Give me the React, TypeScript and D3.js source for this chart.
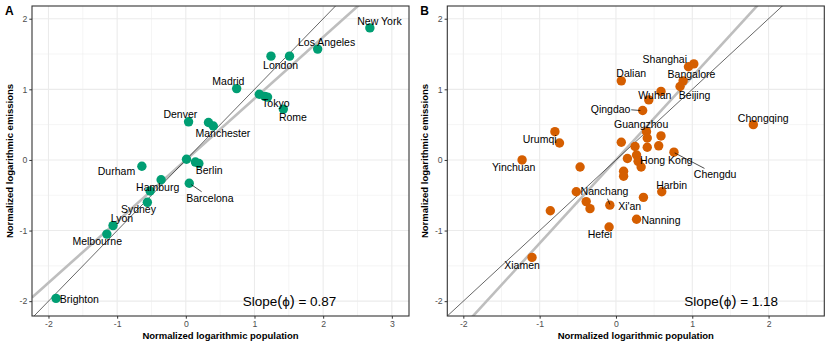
import React, { useEffect, useRef } from 'react';
import * as d3 from 'd3';

// tick values
const xTicksA = [-2, -1, 0, 1, 2, 3];
const xTicksB = [-2, -1, 0, 1, 2];
const yTicks = [-2, -1, 0, 1, 2];

// panel A : cities, [log population, log emissions]
const pointsA: [number, number][] = [
  [2.68, 1.87], [1.92, 1.57], [1.24, 1.47], [1.51, 1.47], [0.74, 1.01],
  [1.07, 0.93], [1.15, 0.9], [1.19, 0.89], [1.42, 0.72], [0.04, 0.54],
  [0.33, 0.53], [0.4, 0.48], [0.01, 0.01], [0.14, -0.03], [0.19, -0.05],
  [-0.64, -0.09], [-0.36, -0.28], [-0.52, -0.44], [-0.56, -0.6], [0.05, -0.33],
  [-1.06, -0.93], [-1.15, -1.05], [-1.89, -1.96],
];

const labelsA = [
  { name: 'New York', x: 2.82, y: 1.96 },
  { name: 'Los Angeles', x: 2.05, y: 1.67 },
  { name: 'London', x: 1.38, y: 1.34 },
  { name: 'Madrid', x: 0.62, y: 1.12 },
  { name: 'Tokyo', x: 1.31, y: 0.8 },
  { name: 'Rome', x: 1.56, y: 0.6 },
  { name: 'Denver', x: -0.08, y: 0.64 },
  { name: 'Manchester', x: 0.54, y: 0.37 },
  { name: 'Berlin', x: 0.34, y: -0.15 },
  { name: 'Durham', x: -1.01, y: -0.16 },
  { name: 'Hamburg', x: -0.41, y: -0.39 },
  { name: 'Barcelona', x: 0.35, y: -0.55 },
  { name: 'Sydney', x: -0.69, y: -0.7 },
  { name: 'Lyon', x: -0.93, y: -0.83 },
  { name: 'Melbourne', x: -1.29, y: -1.15 },
  { name: 'Brighton', x: -1.55, y: -1.97 },
];

const segmentsA = [[0.08, -0.35, 0.23, -0.45]];
const slopeA = 0.87;

// panel B : cities, [log population, log emissions]
const pointsB: [number, number][] = [
  [0.95, 1.32], [1.02, 1.36], [0.88, 1.12], [0.84, 1.04], [0.07, 1.12],
  [0.59, 0.97], [0.43, 0.85], [0.35, 0.7], [1.8, 0.5], [-0.8, 0.4],
  [-0.74, 0.24], [-1.23, 0.0], [-0.47, -0.1],
  [0.4, 0.4], [0.41, 0.31], [0.59, 0.34], [0.07, 0.25], [0.41, 0.18],
  [0.56, 0.2], [0.25, 0.19], [0.76, 0.11], [0.15, 0.02], [0.27, 0.07],
  [0.29, -0.02], [0.33, -0.1], [0.1, -0.16], [0.1, -0.23],
  [-0.52, -0.45], [-0.39, -0.59], [-0.34, -0.69], [-0.86, -0.72], [-0.08, -0.64],
  [0.36, -0.53], [0.6, -0.45], [0.27, -0.84], [-0.09, -0.95], [-1.1, -1.38],
];

const labelsB = [
  { name: 'Shanghai', x: 0.64, y: 1.42 },
  { name: 'Dalian', x: 0.2, y: 1.22 },
  { name: 'Bangalore', x: 0.99, y: 1.21 },
  { name: 'Wuhan', x: 0.51, y: 0.91 },
  { name: 'Beijing', x: 1.03, y: 0.91 },
  { name: 'Qingdao', x: -0.07, y: 0.72 },
  { name: 'Guangzhou', x: 0.33, y: 0.51 },
  { name: 'Chongqing', x: 1.93, y: 0.59 },
  { name: 'Urumqi', x: -1.0, y: 0.29 },
  { name: 'Yinchuan', x: -1.34, y: -0.1 },
  { name: 'Hong Kong', x: 0.66, y: 0.0 },
  { name: 'Chengdu', x: 1.3, y: -0.2 },
  { name: 'Harbin', x: 0.73, y: -0.36 },
  { name: 'Nanchang', x: -0.15, y: -0.44 },
  { name: "Xi'an", x: 0.18, y: -0.65 },
  { name: 'Nanning', x: 0.59, y: -0.86 },
  { name: 'Hefei', x: -0.21, y: -1.06 },
  { name: 'Xiamen', x: -1.23, y: -1.49 },
];

const segmentsB = [
  [0.2, 0.71, 0.32, 0.7],
  [0.77, 0.1, 1.16, -0.12],
  [-0.11, -0.55, -0.08, -0.63],
];
const slopeB = 1.18;

const FONT = '"Liberation Sans", Arial, Helvetica, sans-serif';

export default function App() {
  const svgRef = useRef<SVGSVGElement>(null);

  const top = 6;
  const bottom = 316;
  const yDomain = [-2.21, 2.18];

  const drawPanel = (svg, id, tag, left, right, xDomain, xTicks, points, labels, segments, slope, color) => {
    const x = d3.scaleLinear().domain(xDomain).range([left, right]);
    const y = d3.scaleLinear().domain(yDomain).range([bottom, top]);
    const g = svg.append('g');

    g.append('clipPath')
      .attr('id', id)
      .append('rect')
      .attr('x', left)
      .attr('y', top)
      .attr('width', right - left)
      .attr('height', bottom - top);

    g.append('rect')
      .attr('x', left)
      .attr('y', top)
      .attr('width', right - left)
      .attr('height', bottom - top)
      .attr('fill', 'white');

    // grille mineure
    const minorX = d3.range(Math.ceil(xDomain[0] * 2) / 2, xDomain[1], 0.5).filter((v) => v % 1 !== 0);
    const minorY = d3.range(-2.0, 2.2, 0.5).filter((v) => v % 1 !== 0);
    g.selectAll('.mx').data(minorX).enter().append('line')
      .attr('x1', (d) => x(d)).attr('x2', (d) => x(d))
      .attr('y1', top).attr('y2', bottom)
      .attr('stroke', '#ebebeb').attr('stroke-width', 0.5);
    g.selectAll('.my').data(minorY).enter().append('line')
      .attr('x1', left).attr('x2', right)
      .attr('y1', (d) => y(d)).attr('y2', (d) => y(d))
      .attr('stroke', '#ebebeb').attr('stroke-width', 0.5);

    // grille majeure
    g.selectAll('.gx').data(xTicks).enter().append('line')
      .attr('x1', (d) => x(d)).attr('x2', (d) => x(d))
      .attr('y1', top).attr('y2', bottom)
      .attr('stroke', '#ebebeb').attr('stroke-width', 1.1);
    g.selectAll('.gy').data(yTicks).enter().append('line')
      .attr('x1', left).attr('x2', right)
      .attr('y1', (d) => y(d)).attr('y2', (d) => y(d))
      .attr('stroke', '#ebebeb').attr('stroke-width', 1.1);

    const clip = g.append('g').attr('clip-path', `url(#${id})`);

    // droite de régression
    clip.append('line')
      .attr('x1', x(xDomain[0])).attr('y1', y(slope * xDomain[0]))
      .attr('x2', x(xDomain[1])).attr('y2', y(slope * xDomain[1]))
      .attr('stroke', '#bebebe').attr('stroke-width', 2.6);

    // droite y = x
    clip.append('line')
      .attr('x1', x(xDomain[0])).attr('y1', y(xDomain[0]))
      .attr('x2', x(xDomain[1])).attr('y2', y(xDomain[1]))
      .attr('stroke', 'black').attr('stroke-width', 0.6);

    clip.selectAll('circle').data(points).enter().append('circle')
      .attr('cx', (d) => x(d[0]))
      .attr('cy', (d) => y(d[1]))
      .attr('r', 4.7)
      .attr('fill', color);

    clip.selectAll('.seg').data(segments).enter().append('line')
      .attr('x1', (d) => x(d[0])).attr('y1', (d) => y(d[1]))
      .attr('x2', (d) => x(d[2])).attr('y2', (d) => y(d[3]))
      .attr('stroke', 'black').attr('stroke-width', 0.7);

    clip.selectAll('.lab').data(labels).enter().append('text')
      .attr('x', (d) => x(d.x))
      .attr('y', (d) => y(d.y))
      .attr('dy', '0.35em')
      .attr('text-anchor', 'middle')
      .attr('font-family', FONT)
      .attr('font-size', 10.5)
      .attr('fill', 'black')
      .text((d) => d.name);

    const st = g.append('text')
      .attr('x', x(1.51))
      .attr('y', y(-2.0))
      .attr('dy', '0.35em')
      .attr('text-anchor', 'middle')
      .attr('font-family', FONT)
      .attr('font-size', 13.5)
      .attr('fill', 'black');
    st.append('tspan').text('Slope');
    st.append('tspan').attr('font-size', 15).text('(');
    st.append('tspan').text('ϕ');
    st.append('tspan').attr('font-size', 15).text(')');
    st.append('tspan').text(` = ${slope.toFixed(2)}`);

    // cadre
    g.append('rect')
      .attr('x', left)
      .attr('y', top)
      .attr('width', right - left)
      .attr('height', bottom - top)
      .attr('fill', 'none')
      .attr('stroke', '#333333')
      .attr('stroke-width', 1.1);

    // axes
    const ax = g.append('g')
      .attr('transform', `translate(0,${bottom})`)
      .call(d3.axisBottom(x).tickValues(xTicks).tickSize(2.7).tickPadding(2).tickFormat(d3.format('d')));
    const ay = g.append('g')
      .attr('transform', `translate(${left},0)`)
      .call(d3.axisLeft(y).tickValues(yTicks).tickSize(2.7).tickPadding(2).tickFormat(d3.format('d')));
    [ax, ay].forEach((a) => {
      a.select('.domain').remove();
      a.selectAll('line').attr('stroke', '#333333').attr('stroke-width', 1);
      a.selectAll('text')
        .attr('font-family', FONT)
        .attr('font-size', 8.7)
        .attr('fill', '#4d4d4d')
        .text((d) => String(d).replace('−', '-'));
    });

    g.append('text')
      .attr('x', (left + right) / 2)
      .attr('y', 339)
      .attr('text-anchor', 'middle')
      .attr('font-family', FONT)
      .attr('font-weight', 'bold')
      .attr('font-size', 9.5)
      .text('Normalized logarithmic population');

    g.append('text')
      .attr('transform', `translate(${left - 19},${(top + bottom) / 2}) rotate(-90)`)
      .attr('text-anchor', 'middle')
      .attr('font-family', FONT)
      .attr('font-weight', 'bold')
      .attr('font-size', 9.5)
      .text('Normalized logarithmic emissions');

    g.append('text')
      .attr('x', left - 27)
      .attr('y', 15)
      .attr('font-family', FONT)
      .attr('font-weight', 'bold')
      .attr('font-size', 12)
      .text(tag);
  };

  useEffect(() => {
    const svg = d3.select(svgRef.current);
    svg.selectAll('*').remove();
    drawPanel(svg, 'clipA', 'A', 32, 409, [-2.24, 3.25], xTicksA, pointsA, labelsA, segmentsA, slopeA, '#009E73');
    drawPanel(svg, 'clipB', 'B', 447.3, 824.3, [-2.21, 2.73], xTicksB, pointsB, labelsB, segmentsB, slopeB, '#D55E00');
  }, []);

  return (
    <svg
      ref={svgRef}
      width={830}
      height={346}
      style={{ position: 'absolute', left: 0, top: 0, background: 'white' }}
    ></svg>
  );
}
